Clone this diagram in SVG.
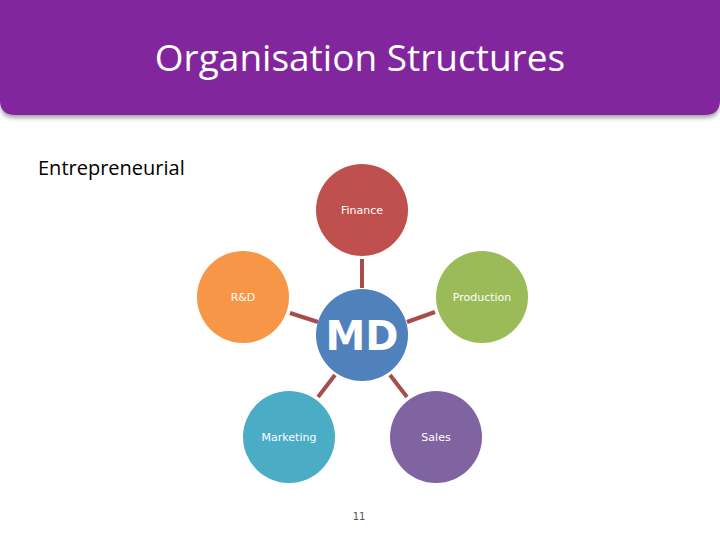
<svg xmlns="http://www.w3.org/2000/svg" width="720" height="540" viewBox="0 0 720 540">
<style>
.lbl{font-family:"DejaVu Sans",sans-serif;font-size:11px;fill:#fff;text-anchor:middle}
.c{stroke:none}
.con line{stroke:#a84c4a;stroke-width:4}
</style>
<defs><filter id="sh" x="-5%" y="-10%" width="110%" height="130%"><feDropShadow dx="0" dy="3" stdDeviation="2" flood-color="#000" flood-opacity="0.35"/></filter></defs>
<rect width="720" height="540" fill="#fff"/>
<path d="M0,-10 H720 V100 Q720,115 705,115 H15 Q0,115 0,100 Z" fill="#82259e" filter="url(#sh)"/>
<text x="360" y="71" font-family="'Open Sans','Liberation Sans',sans-serif" font-size="37" fill="#fff" text-anchor="middle">Organisation Structures</text>
<text x="38" y="175" font-family="'Open Sans','Liberation Sans',sans-serif" font-size="20" fill="#000">Entrepreneurial</text>
<g class="con">
<line x1="362" y1="259" x2="362" y2="288"/>
<line x1="290" y1="313" x2="318" y2="322"/>
<line x1="435" y1="312" x2="407" y2="322"/>
<line x1="335" y1="375" x2="318" y2="397"/>
<line x1="390" y1="375" x2="407" y2="397"/>
</g>
<g id="finance"><circle cx="362" cy="210" r="46" fill="#c0504d"/><text class="lbl" x="362" y="214">Finance</text></g>
<g id="rd"><circle cx="243" cy="297" r="46" fill="#f79646"/><text class="lbl" x="243" y="301">R&amp;D</text></g>
<g id="production"><circle cx="482" cy="297" r="46" fill="#9bbb59"/><text class="lbl" x="482" y="301">Production</text></g>
<g id="md"><circle cx="362" cy="335" r="46" fill="#4f81bd"/><text x="362" y="350" font-family="'DejaVu Sans',sans-serif" font-weight="bold" font-size="40" fill="#fff" text-anchor="middle">MD</text></g>
<g id="marketing"><circle cx="289" cy="437" r="46" fill="#4bacc6"/><text class="lbl" x="289" y="441">Marketing</text></g>
<g id="sales"><circle cx="436" cy="437" r="46" fill="#8064a2"/><text class="lbl" x="436" y="441">Sales</text></g>
<text x="359" y="520" font-family="'DejaVu Sans',sans-serif" font-size="10" fill="#555" text-anchor="middle">11</text>
</svg>
